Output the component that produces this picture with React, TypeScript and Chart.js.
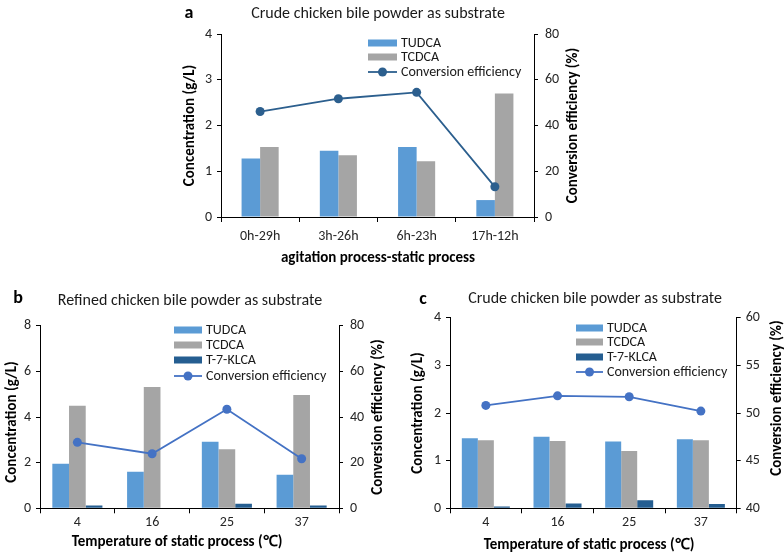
import React, { useEffect, useRef } from "react";
import { Chart, registerables } from "chart.js";

Chart.register(...registerables);

// ---------- data ----------
const catsA = ["0h-29h", "3h-26h", "6h-23h", "17h-12h"];
const tudcaA = [1.28, 1.45, 1.53, 0.37];
const tcdcaA = [1.53, 1.35, 1.22, 2.7];
const convA = [46.1, 51.7, 54.5, 13.2];

const catsTemp = ["4", "16", "25", "37"];
const tudcaB = [1.95, 1.6, 2.92, 1.47];
const tcdcaB = [4.49, 5.31, 2.59, 4.96];
const klcaB = [0.12, 0, 0.2, 0.12];
const convB = [28.9, 23.9, 43.4, 21.7];

const tudcaC = [1.47, 1.5, 1.4, 1.45];
const tcdcaC = [1.43, 1.41, 1.2, 1.43];
const klcaC = [0.04, 0.1, 0.17, 0.09];
const convC = [50.8, 51.8, 51.7, 50.2];

const concRangeA = [0, 4, 1];
const convRangeA = [0, 80, 20];
const concRangeB = [0, 8, 2];
const convRangeB = [0, 80, 20];
const concRangeC = [0, 4, 1];
const convRangeC = [40, 60, 5];

const FONT = "Carlito, Lato, 'Open Sans', sans-serif";
const C_TUDCA = "#5B9BD5";
const C_TCDCA = "#A5A5A5";
const C_KLCA = "#255E91";

const figText = {
  id: "figText",
  afterDraw(chart: any, _a: any, o: any) {
    const ctx = chart.ctx;
    const ca = chart.chartArea;
    ctx.save();
    ctx.textAlign = "center";
    ctx.textBaseline = "middle";
    ctx.fillStyle = "#000";
    ctx.font = `bold 18px ${FONT}`;
    ctx.fillText(o.letter, o.letterX, o.letterY);
    ctx.font = `16px ${FONT}`;
    ctx.fillStyle = "#1a1a1a";
    ctx.fillText(o.title, o.titleX, o.titleY);
    ctx.fillStyle = "#000";
    ctx.font = `bold 15px ${FONT}`;
    ctx.fillText(o.xTitle, o.xTitleX, o.xTitleY);
    const cy = (ca.top + ca.bottom) / 2;
    ctx.save();
    ctx.translate(o.yTitleX, cy + (o.yTitleDy || 0));
    ctx.rotate(-Math.PI / 2);
    ctx.fillText("Concentration (g/L)", 0, 0);
    ctx.restore();
    ctx.save();
    ctx.translate(o.y1TitleX, cy + (o.y1TitleDy || 0));
    ctx.rotate(-Math.PI / 2);
    ctx.fillText("Conversion efficiency (%)", 0, 0);
    ctx.restore();
    // legend
    ctx.font = `14px ${FONT}`;
    ctx.textAlign = "left";
    chart.data.datasets.forEach((ds: any, i: number) => {
      const y = o.legRows[i];
      if (ds.type === "line") {
        ctx.strokeStyle = ds.borderColor;
        ctx.lineWidth = ds.borderWidth;
        ctx.beginPath();
        ctx.moveTo(o.legX, y);
        ctx.lineTo(o.legX + o.legW, y);
        ctx.stroke();
        ctx.fillStyle = ds.pointBackgroundColor;
        ctx.beginPath();
        ctx.arc(o.legX + o.legW / 2, y, ds.pointRadius, 0, Math.PI * 2);
        ctx.fill();
      } else {
        ctx.fillStyle = ds.backgroundColor;
        ctx.fillRect(o.legX, y - 3.5, o.legW, 7);
      }
      ctx.fillStyle = "#1a1a1a";
      ctx.fillText(ds.label, o.legX + o.legW + 4, y + 0.5);
    });
    ctx.restore();
  },
};

function makeConfig(p: any) {
  const bars = p.bars.map((b: any) => ({
    type: "bar",
    label: b.label,
    data: b.data,
    backgroundColor: b.color,
    borderWidth: 0,
    yAxisID: "y",
    order: 1,
    barPercentage: 1,
    categoryPercentage: p.catPct,
  }));
  const line = {
    type: "line",
    label: "Conversion efficiency",
    data: p.conv,
    borderColor: p.lineColor,
    backgroundColor: p.lineColor,
    pointBackgroundColor: p.lineColor,
    pointBorderColor: p.lineColor,
    borderWidth: 1.8,
    pointRadius: 4.5,
    pointBorderWidth: 0,
    yAxisID: "y1",
    order: 0,
    tension: 0,
  };
  const tickFont = { family: FONT, size: 14 };
  const axisGrid = {
    drawOnChartArea: false,
    drawTicks: true,
    tickLength: 4,
    color: "#000",
    tickColor: "#000",
    tickWidth: 1,
  };
  return {
    type: "bar",
    data: { labels: p.labels, datasets: [...bars, line] },
    plugins: [figText],
    options: {
      responsive: false,
      animation: false,
      layout: { padding: { top: p.area.top, left: 0, right: 0, bottom: 0 } },
      plugins: {
        legend: { display: false },
        tooltip: { enabled: false },
        title: { display: false },
        figText: p.text,
      },
      scales: {
        x: {
          type: "category",
          grid: { ...axisGrid, offset: true, tickLength: 5 },
          border: { color: "#000", width: 1 },
          ticks: { font: tickFont, color: "#262626", padding: p.xPad, maxRotation: 0 },
          afterFit: (s: any) => {
            s.height = p.size[1] - p.area.bottom;
          },
        },
        y: {
          position: "left",
          min: p.conc[0],
          max: p.conc[1],
          grid: axisGrid,
          border: { color: "#000", width: 1 },
          ticks: { stepSize: p.conc[2], font: tickFont, color: "#262626", padding: 5 },
          afterFit: (s: any) => {
            s.width = p.area.left;
          },
        },
        y1: {
          position: "right",
          min: p.convR[0],
          max: p.convR[1],
          grid: axisGrid,
          border: { color: "#000", width: 1 },
          ticks: { stepSize: p.convR[2], font: tickFont, color: "#262626", padding: p.y1Pad },
          afterFit: (s: any) => {
            s.width = p.size[0] - p.area.right;
          },
        },
      },
    },
  };
}

function Panel(p: any) {
  const ref = useRef<HTMLCanvasElement>(null);
  useEffect(() => {
    const chart = new Chart(ref.current as HTMLCanvasElement, makeConfig(p) as any);
    return () => chart.destroy();
  }, []);
  return (
    <canvas
      ref={ref}
      width={p.size[0]}
      height={p.size[1]}
      style={{ position: "absolute", left: p.pos[0], top: p.pos[1], width: p.size[0], height: p.size[1] }}
    />
  );
}

const panelA = {
  pos: [0, 0],
  size: [784, 272],
  area: { left: 221, right: 534, top: 34, bottom: 217 },
  labels: catsA,
  bars: [
    { label: "TUDCA", data: tudcaA, color: C_TUDCA },
    { label: "TCDCA", data: tcdcaA, color: C_TCDCA },
  ],
  conv: convA,
  lineColor: "#2C5F8E",
  catPct: 0.474,
  conc: concRangeA,
  convR: convRangeA,
  xPad: 6,
  y1Pad: 7,
  text: {
    letter: "a", letterX: 189, letterY: 13,
    title: "Crude chicken bile powder as substrate", titleX: 378, titleY: 14,
    xTitle: "agitation process-static process", xTitleX: 378, xTitleY: 258,
    yTitleX: 190, y1TitleX: 573,
    legX: 368, legW: 29, legRows: [43, 57, 72],
  },
};

const panelB = {
  pos: [0, 275],
  size: [392, 278],
  area: { left: 40, right: 339, top: 50.7, bottom: 233.3 },
  labels: catsTemp,
  bars: [
    { label: "TUDCA", data: tudcaB, color: C_TUDCA },
    { label: "TCDCA", data: tcdcaB, color: C_TCDCA },
    { label: "T-7-KLCA", data: klcaB, color: C_KLCA },
  ],
  conv: convB,
  lineColor: "#4472C4",
  catPct: 0.67,
  conc: concRangeB,
  convR: convRangeB,
  xPad: 1,
  y1Pad: 7,
  text: {
    letter: "b", letterX: 18, letterY: 23,
    title: "Refined chicken bile powder as substrate", titleX: 190, titleY: 26,
    xTitle: "Temperature of static process (℃)", xTitleX: 177, xTitleY: 267,
    yTitleX: 12, y1TitleX: 378, yTitleDy: 5,
    legX: 174, legW: 28, legRows: [55, 70, 85, 101],
  },
};

const panelC = {
  pos: [392, 275],
  size: [392, 278],
  area: { left: 58, right: 344.7, top: 42.7, bottom: 233.3 },
  labels: catsTemp,
  bars: [
    { label: "TUDCA", data: tudcaC, color: C_TUDCA },
    { label: "TCDCA", data: tcdcaC, color: C_TCDCA },
    { label: "T-7-KLCA", data: klcaC, color: C_KLCA },
  ],
  conv: convC,
  lineColor: "#4472C4",
  catPct: 0.67,
  conc: concRangeC,
  convR: convRangeC,
  xPad: 1,
  y1Pad: 5,
  text: {
    letter: "c", letterX: 31, letterY: 24,
    title: "Crude chicken bile powder as substrate", titleX: 203, titleY: 24,
    xTitle: "Temperature of static process (℃)", xTitleX: 197, xTitleY: 270,
    yTitleX: 26, y1TitleX: 385, y1TitleDy: -15,
    legX: 184, legW: 27, legRows: [53, 67, 82, 97],
  },
};

export default function App() {
  return (
    <div style={{ position: "absolute", left: 0, top: 0, width: 784, height: 553, background: "#fff" }}>
      <Panel {...panelA} />
      <Panel {...panelB} />
      <Panel {...panelC} />
    </div>
  );
}
